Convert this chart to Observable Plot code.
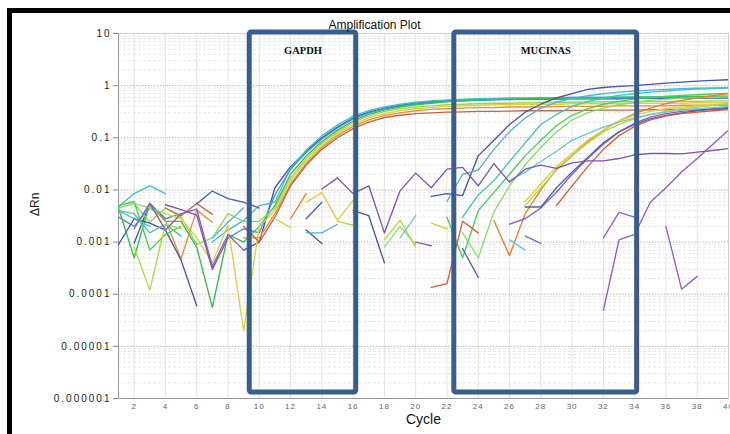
<!DOCTYPE html>
<html><head><meta charset="utf-8">
<script src="https://cdn.jsdelivr.net/npm/d3@7"></script>
<script src="https://cdn.jsdelivr.net/npm/@observablehq/plot@0.6"></script>
<style>html,body{margin:0;padding:0;background:#fff;} #chart{width:730px;height:434px;overflow:hidden}</style>
</head><body><div id="chart"></div>
<script>
const _ = null;
const cycles = [1,2,3,4,5,6,7,8,9,10,11,12,13,14,15,16,17,18,19,20,21,22,23,24,25,26,27,28,29,30,31,32,33,34,35,36,37,38,39,40];
const xTicks = [2,4,6,8,10,12,14,16,18,20,22,24,26,28,30,32,34,36,38,40];
const xTickLabels = ["2","4","6","8","10","12","14","16","18","20","22","24","26","28","30","32","34","36","38","40"];
const yTicks = [0.000001,0.00001,0.0001,0.001,0.01,0.1,1,10];
const yTickLabels = ["0.000001","0.00001","0.0001","0.001","0.01","0.1","1","10"];

// GAPDH curves
const G1 = [_,0.00095,0.0055,0.0028,_,_,_,_,0.0007,0.001, 0.011,0.028,0.055,0.1,0.16,0.24,0.31,0.37,0.42,0.46, 0.49,0.51,0.52,0.53,0.54,0.54,0.55,0.55,0.55,0.56, 0.56,0.56,0.56,0.57,0.57,0.57,0.57,0.58,0.58,0.58];
const G2 = [0.0047,0.0085,0.012,0.0085,_,_,0.001,0.0017,0.0026,0.005, 0.0058,0.026,0.058,0.11,0.175,0.26,0.33,0.39,0.44,0.48, 0.51,0.53,0.55,0.56,0.57,0.58,0.58,0.59,0.59,0.6, 0.6,0.6,0.61,0.61,0.61,0.62,0.62,0.62,0.63,0.63];
const G3 = [0.003,0.002,0.0045,0.0028,0.0035,_,_,0.0012,0.0018,0.0015, 0.008,0.025,0.052,0.095,0.155,0.23,0.3,0.36,0.41,0.45, 0.48,0.5,0.52,0.53,0.54,0.55,0.55,0.56,0.56,0.57, 0.57,0.57,0.58,0.58,0.58,0.59,0.59,0.59,0.6,0.6];
const G4 = [0.0045,0.0005,0.0055,0.0025,0.0025,0.0008,0.000056,0.0014,0.001,0.002, 0.005,0.02,0.045,0.085,0.14,0.21,0.28,0.34,0.39,0.43, 0.46,0.49,0.51,0.53,0.54,0.55,0.56,0.57,0.57,0.58, 0.58,0.59,0.59,0.6,0.6,0.6,0.61,0.61,0.61,0.62];
const G5 = [0.0045,0.0055,0.0024,0.0045,0.003,0.0009,0.0012,0.0035,0.0025,0.0025, 0.0045,0.017,0.04,0.078,0.13,0.2,0.26,0.32,0.36,0.39, 0.41,0.43,0.44,0.45,0.46,0.46,0.47,0.47,0.48,0.48, 0.48,0.49,0.49,0.49,0.5,0.5,0.5,0.5,0.51,0.51];
const G6 = [_,_,_,0.0035,0.0028,0.0012,0.0004,0.0021,0.00002,0.002, 0.004,0.015,0.036,0.07,0.12,0.18,0.24,0.29,0.33,0.36, 0.38,0.4,0.41,0.42,0.43,0.43,0.44,0.44,0.44,0.45, 0.45,0.45,0.45,0.46,0.46,0.46,0.46,0.47,0.47,0.47];
const G7 = [_,_,0.005,0.0026,0.00048,0.0041,0.0024,_,0.0012,0.0012, 0.0035,0.013,0.032,0.065,0.11,0.165,0.22,0.27,0.3,0.33, 0.35,0.36,0.37,0.38,0.38,0.39,0.39,0.39,0.4,0.4, 0.4,0.4,0.41,0.41,0.41,0.41,0.42,0.42,0.42,0.42];
const G8 = [_,_,_,0.0045,0.0032,0.0055,0.0034,_,0.002,0.001, 0.003,0.012,0.03,0.06,0.1,0.15,0.2,0.245,0.27,0.29, 0.3,0.31,0.315,0.32,0.32,0.325,0.33,0.33,0.33,0.335, 0.335,0.34,0.34,0.34,0.345,0.345,0.35,0.35,0.35,0.35];

// MUCINAS curves
const M1 = [0.0009,0.0028,0.0023,0.0017,0.00045,0.00006,_,_,_,_, _,_,0.0017,0.00094,_,0.004,0.0032,0.0004,_,_, 0.0075,0.0085,0.0078,0.045,0.09,0.18,0.31,0.44,0.58,0.7, 0.85,0.92,0.97,1.0,1.06,1.12,1.17,1.22,1.26,1.3];
const M2 = [0.004,0.0028,0.002,_,_,_,0.0012,0.0024,0.0045,_, _,_,0.0015,0.0015,0.0022,_,_,_,_,_, _,0.006,0.02,0.024,0.06,0.13,0.24,0.37,0.48,0.57, 0.64,0.7,0.75,0.79,0.82,0.85,0.87,0.89,0.9,0.92];
const M3 = [0.004,0.0035,0.0015,0.0022,0.0013,_,_,_,_,_, _,_,_,_,_,_,_,_,_,_, _,_,0.003,0.008,0.015,0.035,0.08,0.18,0.28,0.4, 0.5,0.58,0.65,0.7,0.75,0.79,0.83,0.86,0.88,0.9];
const M4 = [0.005,0.006,0.0007,0.0014,0.002,_,_,_,_,_, _,_,_,_,_,_,_,_,_,_, _,0.003,0.0005,0.004,0.009,0.02,0.045,0.09,0.17,0.27, 0.36,0.44,0.5,0.55,0.59,0.62,0.65,0.67,0.69,0.71];
const M5 = [_,0.0055,0.0045,0.0035,_,_,_,_,_,_, _,_,_,_,_,_,_,0.0008,0.002,0.0009, _,_,0.0015,0.0005,0.0038,0.012,0.03,0.065,0.13,0.22, 0.3,0.37,0.43,0.48,0.52,0.55,0.57,0.59,0.6,0.61];
const M6 = [_,_,_,_,_,_,_,_,_,_, _,0.0028,0.0085,_,_,_,_,_,_,_, _,_,_,_,0.0026,0.00055,0.0035,0.01,0.025,0.045, 0.085,0.14,0.21,0.29,0.37,0.45,0.52,0.58,0.64,0.7];
const M7 = [_,_,_,_,_,_,_,_,_,_, _,_,0.0058,0.0089,0.0026,0.0063,_,_,_,_, 0.0023,0.0018,_,_,_,_,0.006,0.013,0.028,0.05, 0.09,0.14,0.21,0.27,0.32,0.36,0.39,0.41,0.43,0.44];
const M8 = [_,0.0008,0.00012,0.0022,0.0018,_,_,_,_,_, 0.0028,0.0019,_,_,0.0025,0.0021,_,0.0011,0.0026,0.0008, _,_,_,_,_,_,0.005,0.011,0.024,0.045, 0.08,0.13,0.18,0.23,0.28,0.32,0.36,0.39,0.42,0.45];
const M9 = [_,0.0018,0.0056,0.0017,0.0035,0.0043,0.00034,0.0014,0.0007,_, _,_,_,_,_,_,_,_,_,0.001, 0.00085,_,_,_,_,0.0022,0.0028,0.0045,0.009,0.02, 0.04,0.075,0.13,0.19,0.25,0.29,0.32,0.34,0.36,0.38];
const M10 = [_,_,_,_,_,0.0054,0.0095,0.0068,0.0058,0.0045, _,_,0.0028,0.0058,_,_,_,_,_,_, _,_,0.00075,0.00021,_,_,0.0047,0.0047,0.011,0.022, 0.042,0.08,0.13,0.18,0.23,0.27,0.3,0.33,0.35,0.37];
const M11 = [_,_,_,_,_,_,_,_,_,_, _,_,_,_,_,_,_,_,_,_, 0.000135,0.00016,0.0025,0.0015,_,_,_,_,0.005,0.012, 0.028,0.06,0.11,0.165,0.22,0.26,0.29,0.31,0.33,0.35];
const M12 = [_,_,_,_,_,_,_,_,_,_, _,_,_,_,_,_,_,_,0.0012,0.0032, _,_,_,_,_,0.015,0.022,0.035,0.055,0.09, 0.12,0.16,0.2,0.24,0.28,0.31,0.34,0.36,0.38,0.4];

// other wells
const P1 = [_,_,_,0.0052,0.0042,0.0033,0.0003,0.0012,_,_, _,_,_,0.0104,0.017,0.0085,0.012,0.0015,0.0096,0.021, 0.011,0.025,0.027,0.012,0.032,0.014,0.025,0.03,0.026,0.033, 0.036,0.036,0.04,0.047,0.05,0.05,0.049,0.053,0.057,0.062];
const P2 = [_,_,_,_,_,_,_,_,_,_, _,_,_,_,_,_,_,_,_,_, _,_,_,_,_,_,_,_,_,_, _,0.000049,0.0011,0.0014,0.0058,0.011,0.022,0.04,0.075,0.14];
const P3 = [_,_,_,_,_,_,_,_,_,_, _,_,_,_,_,_,_,_,_,_, _,_,_,_,_,_,_,_,_,_, _,0.0012,0.0037,0.003,_,0.002,0.000125,0.00022,_,_];
const N1 = [_,_,_,_,_,_,_,_,_,_, _,_,_,_,_,_,_,_,_,_, _,_,_,_,_,0.0011,0.0007,_,_,_, _,_,_,_,_,_,_,_,_,_];
const N2 = [_,_,_,_,_,_,_,_,_,_, _,_,_,_,_,_,_,_,_,_, _,_,_,_,_,_,0.0013,0.00094,_,_, _,_,_,_,_,_,_,_,_,_];

const seriesNames = ["G1","G2","G3","G4","G5","G6","G7","G8","M1","M2","M3","M4","M5","M6","M7","M8","M9","M10","M11","M12","P1","P2","P3","N1","N2"];
const seriesValues = [G1,G2,G3,G4,G5,G6,G7,G8,M1,M2,M3,M4,M5,M6,M7,M8,M9,M10,M11,M12,P1,P2,P3,N1,N2];
const seriesColors = ["#3d55a8","#3fc0d0","#4a8ed8","#34c048","#8fd860","#dcd040","#e8903a","#c8643c",
  "#4656a8","#5aaee0","#3ec8b4","#48d050","#86e070","#ec8020","#e4cc3c","#b4d844","#8a5cc4","#5264b0","#e25a30","#6cc8d8",
  "#8052b4","#9858c8","#9a5cc8","#60c8e0","#9060c0"];

const boxNames = ["GAPDH","MUCINAS"];
const boxStart = [9.39, 22.47];
const boxEnd = [16.2, 34.16];
const boxLow = 0.0000013;
const boxHigh = 10.5;
const boxLabelY = 4.6;

const rows = [];
seriesValues.forEach((vals, s) => vals.forEach((v, i) => rows.push({cycle: cycles[i], value: v, series: seriesNames[s], color: seriesColors[s]})));
const boxes = boxNames.map((n, i) => ({name: n, x1: boxStart[i], x2: boxEnd[i]}));

const yMinor = [];
yTicks.slice(0, -1).forEach(t => [2,3,4,5,6,7,8,9].forEach(k => yMinor.push(t * k)));

const chart = Plot.plot({
  width: 730, height: 434,
  marginLeft: 118, marginRight: 2, marginTop: 33, marginBottom: 36,
  style: {fontFamily: "'Liberation Sans', Arial, sans-serif", background: "#fff"},
  x: {domain: [1, 40], axis: null},
  y: {type: "log", domain: [0.000001, 10], axis: null},
  color: {type: "identity"},
  marks: [
    Plot.ruleX(xTicks, {stroke: "#e4e4e4", strokeWidth: 1}),
    Plot.ruleY(yMinor, {stroke: "#e6e6e6", strokeDasharray: "3,2"}),
    Plot.ruleY(yTicks, {stroke: "#b8b8b8", strokeDasharray: "1.5,1.5"}),
    Plot.frame({stroke: "#d0d0d0"}),
    Plot.ruleX([1], {stroke: "#999"}),
    Plot.ruleY([0.000001], {stroke: "#999"}),
    Plot.axisY(yTicks, {tickFormat: d => yTickLabels[yTicks.indexOf(d)], tickSize: 5, tickPadding: 2, fontSize: 10, label: null}),
    Plot.axisX(xTicks, {tickFormat: d => xTickLabels[xTicks.indexOf(d)], tickSize: 0, tickPadding: 5, fontSize: 8, label: null}),
    Plot.line(rows, {x: "cycle", y: "value", z: "series", stroke: "color", strokeWidth: 1.35, clip: true}),
    Plot.rect(boxes, {x1: "x1", x2: "x2", y1: () => boxLow, y2: () => boxHigh, fill: "none", stroke: "#3a5e8c", strokeWidth: 5, rx: 2}),
    Plot.text(boxes, {x: d => (d.x1 + d.x2) / 2, y: () => boxLabelY, text: "name", fontFamily: "'Liberation Serif', 'Times New Roman', serif", fontWeight: "bold", fontSize: 10.5, fill: "#111"}),
    Plot.text(["Amplification Plot"], {frameAnchor: "top", dx: -49, dy: -13, text: d => d, fontSize: 12, fill: "#111", ariaLabel: "ttl"}),
    Plot.text(["Cycle"], {frameAnchor: "bottom", dy: 25.5, text: d => d, fontSize: 14, fill: "#111", ariaLabel: "xlab"}),
    Plot.text(["ΔRn"], {frameAnchor: "left", dx: -83, rotate: -90, text: d => d, fontSize: 12, fill: "#111"})
  ]
});
document.getElementById("chart").appendChild(chart);
const svg = d3.select(chart);
svg.selectAll('g[aria-label="y-axis tick label"]').style("letter-spacing", "2px").attr("fill", "#222");
svg.selectAll('g[aria-label="y-axis tick"]').attr("stroke", "#888");
svg.selectAll('g[aria-label="x-axis tick label"]').style("letter-spacing", "1px").attr("fill", "#666");
svg.selectAll('g[aria-label="ttl"]').style("letter-spacing", "1.1px");
svg.selectAll('g[aria-label="xlab"]').style("letter-spacing", "0.6px");
svg.append("rect").attr("x", 7).attr("y", 8).attr("width", 5).attr("height", 426).attr("fill", "#000");
svg.append("rect").attr("x", 7).attr("y", 8).attr("width", 723).attr("height", 5).attr("fill", "#000");
</script></body></html>
